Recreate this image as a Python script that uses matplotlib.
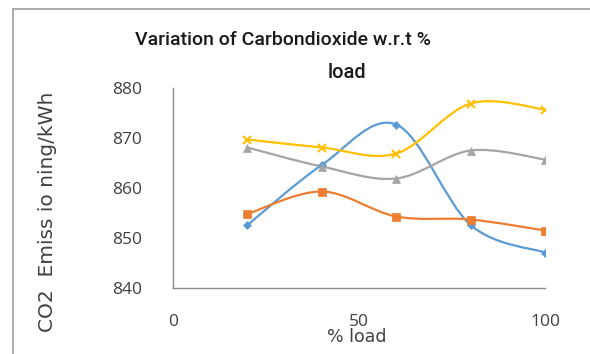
import numpy as np
import matplotlib
matplotlib.use("Agg")
import matplotlib.pyplot as plt
from matplotlib.path import Path
from matplotlib.patches import PathPatch
from matplotlib.lines import Line2D

load = [20, 40, 60, 80, 100]
blue = [852.6, 864.6, 872.7, 852.6, 847.1]
orange = [854.8, 859.3, 854.3, 853.7, 851.5]
grey = [868.1, 864.3, 861.9, 867.5, 865.7]
yellow = [869.7, 868.1, 866.9, 876.9, 875.7]

series = [
    (blue, "#5b9bd5", "D", 4.0),
    (orange, "#ed7d31", "s", 5.5),
    (grey, "#a5a5a5", "^", 5.5),
    (yellow, "#ffc000", "x", 6.0),
]

plt.rcParams["font.family"] = ["Open Sans", "DejaVu Sans"]


def smooth_path(x, y):
    # cubic bezier through the points, like a spreadsheet "smoothed line"
    p = np.column_stack([x, y]).astype(float)
    n = len(p)
    verts = [p[0]]
    codes = [Path.MOVETO]
    for i in range(n - 1):
        p0 = p[max(i - 1, 0)]
        p1 = p[i]
        p2 = p[i + 1]
        p3 = p[min(i + 2, n - 1)]
        c1 = p1 + (p2 - p0) / 6.0
        c2 = p2 - (p3 - p1) / 6.0
        verts += [c1, c2, p2]
        codes += [Path.CURVE4] * 3
    return Path(verts, codes)


fig = plt.figure(figsize=(5.9, 3.54), dpi=100)
ax = fig.add_axes([173 / 590, 1 - 288 / 354, 372 / 590, 200 / 354])

for vals, col, mk, ms in series:
    ax.add_patch(PathPatch(smooth_path(load, vals), fill=False, edgecolor=col,
                           lw=1.6, capstyle="round", joinstyle="round"))
    ax.plot(load, vals, linestyle="none", marker=mk, color=col, ms=ms,
            mew=1.5 if mk == "x" else 0.5)

ax.set_xlim(0, 100)
ax.set_ylim(840, 880)
ax.set_xticks([0, 50, 100])
ax.set_yticks([840, 850, 860, 870, 880])
for s in ["top", "right"]:
    ax.spines[s].set_visible(False)
for s in ["left", "bottom"]:
    ax.spines[s].set_color("#8c8c8c")
    ax.spines[s].set_linewidth(1.0)
ax.tick_params(length=0, labelsize=12.5, colors="#404040")
ax.tick_params(axis="y", pad=22)
ax.tick_params(axis="x", pad=19)
ax.set_xlabel("% load", fontsize=12.5, color="#404040", family="DejaVu Sans",
              va="center")
ax.xaxis.set_label_coords(0.495, -0.245)
ax.set_ylabel("CO2  Emiss io ning/kWh", fontsize=14.5, color="#404040",
              family="DejaVu Sans", va="center")
ax.yaxis.set_label_coords(-126 / 372, 0.38)

fig.text(283 / 590, 1 - 40 / 354, "Variation of Carbondioxide w.r.t %",
         ha="center", va="center", fontsize=14, color="#1a1a1a",
         family="Roboto", weight="medium")
fig.text(347 / 590, 1 - 72 / 354, "load", ha="center", va="center",
         fontsize=14.5, color="#1a1a1a", family="Roboto", weight="medium")

# chart frame
fig.add_artist(Line2D([12.5 / 590, 12.5 / 590], [0, 1 - 9 / 354],
                      color="#a0a0a0", lw=1.2, transform=fig.transFigure))
fig.add_artist(Line2D([12.5 / 590, 1], [1 - 9 / 354, 1 - 9 / 354],
                      color="#a0a0a0", lw=1.2, transform=fig.transFigure))

fig.savefig("out.png", dpi=100)
